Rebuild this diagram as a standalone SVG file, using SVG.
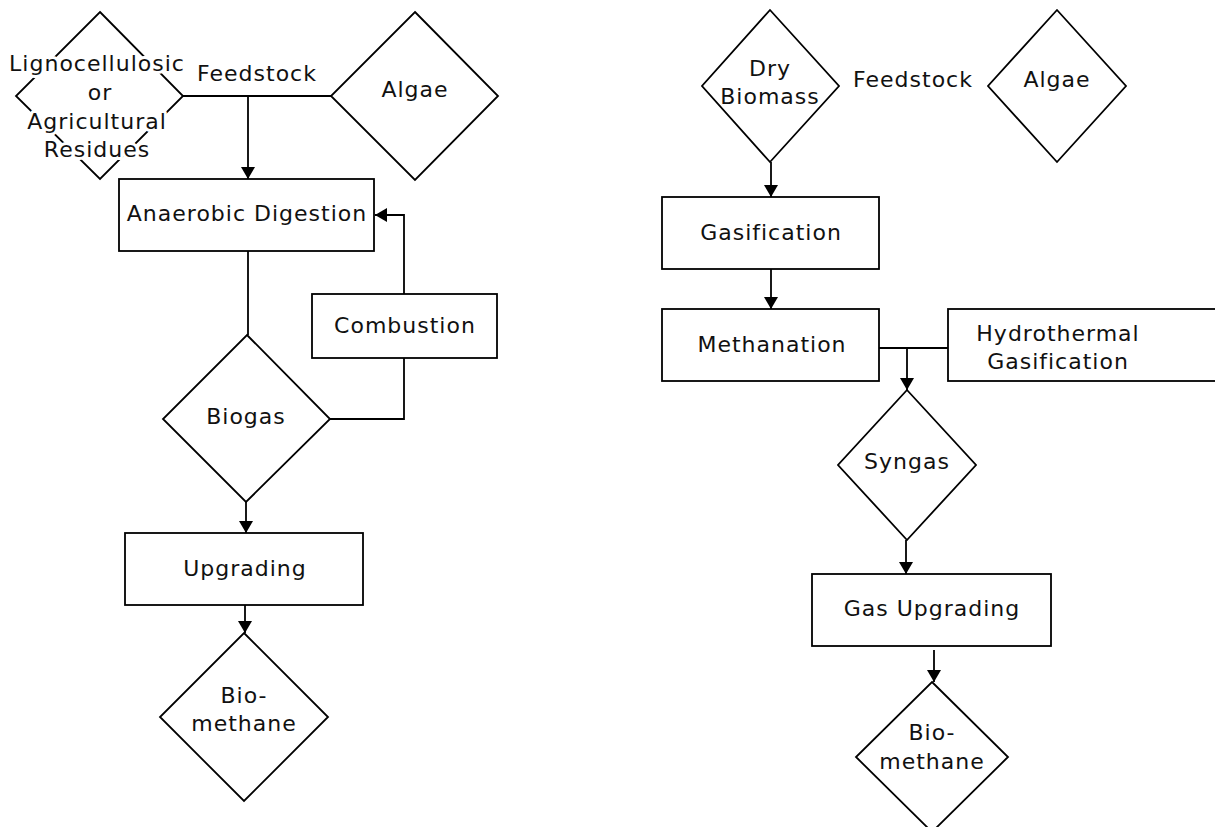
<svg xmlns="http://www.w3.org/2000/svg" width="1215" height="827" viewBox="0 0 1215 827">
<style>
.shape{fill:#fff;stroke:#000;stroke-width:1.8}
.line{fill:none;stroke:#000;stroke-width:1.8}
text{font-family:"DejaVu Sans","Liberation Sans",sans-serif;font-size:22px;letter-spacing:1px;fill:#111;text-anchor:middle;dominant-baseline:central}
.halo{stroke:#fff;stroke-width:6;paint-order:stroke;stroke-linejoin:round}
</style>
<defs>
<marker id="arr" markerUnits="userSpaceOnUse" markerWidth="14" markerHeight="14" refX="12" refY="7" orient="auto">
<path d="M0,0 L12,7 L0,14 z" fill="#000"/>
</marker>
</defs>
<rect width="1215" height="827" fill="#fff"/>
<g id="connectors">
<path class="line" d="M183,96 H331"/>
<path class="line" d="M248,96 V179" marker-end="url(#arr)"/>
<path class="line" d="M248,251 V335"/>
<path class="line" d="M330,419 H404 V358"/>
<path class="line" d="M404,294 V215 H375" marker-end="url(#arr)"/>
<path class="line" d="M246,502 V533" marker-end="url(#arr)"/>
<path class="line" d="M245,605 V633" marker-end="url(#arr)"/>
<path class="line" d="M771,162 V197" marker-end="url(#arr)"/>
<path class="line" d="M771,269 V309" marker-end="url(#arr)"/>
<path class="line" d="M879,348 H948"/>
<path class="line" d="M907,348 V390" marker-end="url(#arr)"/>
<path class="line" d="M906,540 V574" marker-end="url(#arr)"/>
<path class="line" d="M934,650 V682" marker-end="url(#arr)"/>
</g>
<g id="lignocellulosic">
<polygon class="shape" points="100,12 183,96 100,179 16,96"/>
<text class="halo" x="97" y="63">Lignocellulosic</text>
<text class="halo" x="100" y="92">or</text>
<text class="halo" x="97" y="121">Agricultural</text>
<text class="halo" x="97" y="149">Residues</text>
</g>
<g id="feedstock-left"><text x="257" y="73">Feedstock</text></g>
<g id="algae-left">
<polygon class="shape" points="415,12 498,96 415,180 331,96"/>
<text x="415" y="89">Algae</text>
</g>
<g id="anaerobic-digestion">
<rect class="shape" x="119" y="179" width="255" height="72"/>
<text x="247" y="213">Anaerobic Digestion</text>
</g>
<g id="combustion">
<rect class="shape" x="312" y="294" width="185" height="64"/>
<text x="405" y="325">Combustion</text>
</g>
<g id="biogas">
<polygon class="shape" points="247,335 330,419 246,502 163,419"/>
<text x="246" y="416">Biogas</text>
</g>
<g id="upgrading">
<rect class="shape" x="125" y="533" width="238" height="72"/>
<text x="245" y="568">Upgrading</text>
</g>
<g id="biomethane-left">
<polygon class="shape" points="244,633 328,717 244,801 160,717"/>
<text x="244" y="695">Bio-</text>
<text x="244" y="723">methane</text>
</g>
<g id="dry-biomass">
<polygon class="shape" points="770,10 839,86 770,162 702,86"/>
<text x="770" y="68">Dry</text>
<text x="770" y="96">Biomass</text>
</g>
<g id="feedstock-right"><text x="913" y="79">Feedstock</text></g>
<g id="algae-right">
<polygon class="shape" points="1057,10 1126,86 1057,162 988,86"/>
<text x="1057" y="79">Algae</text>
</g>
<g id="gasification">
<rect class="shape" x="662" y="197" width="217" height="72"/>
<text x="771" y="232">Gasification</text>
</g>
<g id="methanation">
<rect class="shape" x="662" y="309" width="217" height="72"/>
<text x="772" y="344">Methanation</text>
</g>
<g id="hydrothermal-gasification">
<rect class="shape" x="948" y="309" width="280" height="72"/>
<text x="1058" y="333">Hydrothermal</text>
<text x="1058" y="361">Gasification</text>
</g>
<g id="syngas">
<polygon class="shape" points="907,390 976,465 907,540 838,465"/>
<text x="907" y="461">Syngas</text>
</g>
<g id="gas-upgrading">
<rect class="shape" x="812" y="574" width="239" height="72"/>
<text x="932" y="608">Gas Upgrading</text>
</g>
<g id="biomethane-right">
<polygon class="shape" points="932,682 1008,757 932,832 856,757"/>
<text x="932" y="732">Bio-</text>
<text x="932" y="761">methane</text>
</g>
</svg>
